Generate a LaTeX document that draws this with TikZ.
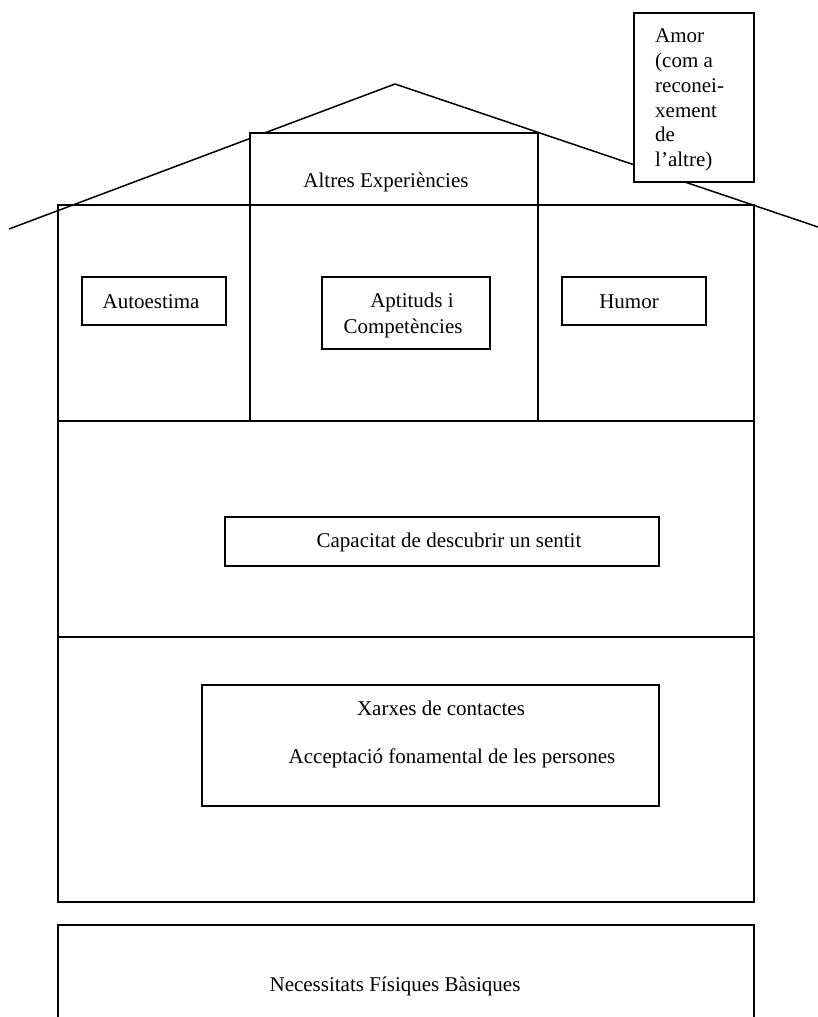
\documentclass[tikz,border=0pt]{standalone}
\usepackage{fontspec}
\setmainfont{Liberation Serif}
\usetikzlibrary{positioning}

\tikzset{
  wall/.style={line width=1.5pt},
  cell/.style={draw, line width=1.5pt, fill=white, inner sep=0pt},
  txt/.style={font=\fontsize{21}{24.7}\selectfont, inner sep=0pt, align=center}
}

\begin{document}
\begin{tikzpicture}[x=1pt, y=-1pt]

  \useasboundingbox (0,0) rectangle (818,1017);

  \newcommand\HL{58}
  \newcommand\HR{754}
  \newcommand\CL{250}
  \newcommand\CR{538}

  \draw[wall] (9,229) -- (395,84) -- (818,227); %% roof

  \draw[wall] (\HL,205) rectangle (\HR,902); %% house
  \draw[wall] (\HL,421) -- (\HR,421);
  \draw[wall] (\HL,637) -- (\HR,637);
  \draw[wall] (\CL,205) -- (\CL,421);
  \draw[wall] (\CR,205) -- (\CR,421);

  \draw[wall] (\HL,1017) -- (\HL,925) -- (\HR,925) -- (\HR,1017); %% base



  \node[cell, minimum width=288, minimum height=72] (altres) at (394,169) {};
  \node[txt] (altresT) at (386,182) {Altres Experiències};

  \node[cell, minimum width=120, minimum height=169] (amor) at (694,97.5) {};
  \node[txt, align=left, anchor=west] (amorT) at (655,100)
    {Amor\\(com a\\reconei-\\xement\\de\\l'altre)};

  \node[cell, minimum width=144, minimum height=48] (autoestima) at (154,301) {};
  \node[txt] (autoestimaT) at (151,302) {Autoestima};

  \node[cell, minimum width=168, minimum height=72] (aptituds) at (406,313) {};
  \node[txt] (aptitudsT) at (412,302) {Aptituds i};
  \node[txt] (competenciesT) at (403,328) {Competències};

  \node[cell, minimum width=144, minimum height=48] (humor) at (634,301) {};
  \node[txt] (humorT) at (629,302) {Humor};

  \node[cell, minimum width=434, minimum height=49] (sentit) at (442,541.5) {};
  \node[txt] (sentitT) at (449,542) {Capacitat de descubrir un sentit};

  \node[cell, minimum width=457, minimum height=121] (xarxes) at (430.5,745.5) {};
  \node[txt] (xarxesT) at (441,708) {Xarxes de contactes};
  \node[txt] (acceptT) at (452,758) {Acceptació fonamental de les persones};

  \node[txt] (basicsT) at (395,986) {Necessitats Físiques Bàsiques};

\end{tikzpicture}
\end{document}
